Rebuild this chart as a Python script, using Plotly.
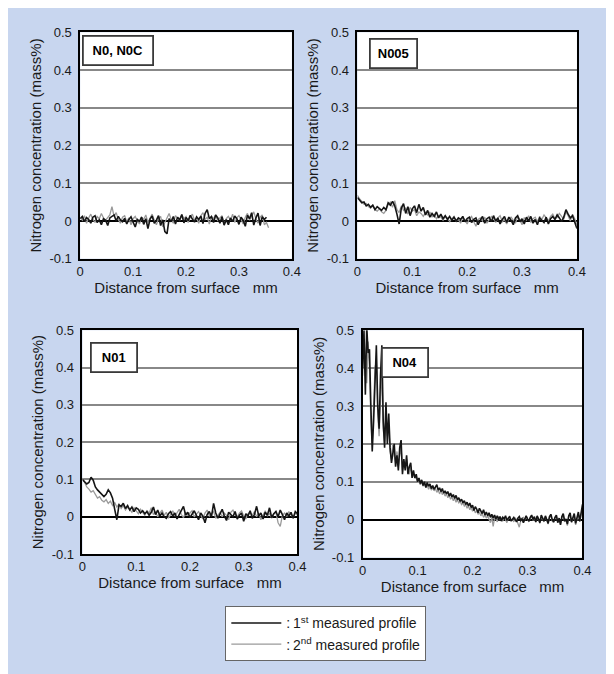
import plotly.graph_objects as go

# ---------------- data (mass% N vs distance from surface, mm) ----------------
STEP_STD = 0.004   # sampling step (mm) for N0, N005, N01
STEP_N04 = 0.0025  # sampling step (mm) for N04

n0_first = [0.006, 0.012, -0.002, 0.009, 0.004, -0.006, 0.010, 0.014, -0.004, 0.003,
            -0.010, 0.006, 0.002, -0.012, 0.008, 0.011, 0.016, 0.000, 0.012, 0.003,
            -0.002, 0.007, -0.008, 0.004, 0.011, -0.003, -0.016, 0.004, -0.001, 0.010,
            -0.009, 0.006, -0.020, 0.005, 0.013, -0.006, 0.002, 0.014, -0.012, 0.003,
            -0.028, -0.034, 0.006, -0.002, 0.012, -0.008, 0.010, 0.003, 0.017, -0.005,
            0.009, 0.001, 0.015, 0.005, -0.003, 0.011, 0.004, 0.013, -0.007, 0.020,
            0.030, 0.006, 0.012, -0.004, 0.016, 0.008, -0.006, 0.011, -0.011, 0.004,
            -0.010, 0.008, -0.002, 0.013, 0.006, -0.009, 0.010, 0.002, -0.014, 0.015,
            0.006, 0.022, -0.011, 0.008, 0.021, -0.012, 0.011, 0.004, 0.010]
n0_second = [0.010, 0.002, 0.014, -0.006, 0.008, 0.018, 0.004, -0.004, 0.012, 0.006,
             0.020, 0.008, 0.002, 0.010, 0.016, 0.038, 0.012, 0.022, 0.004, -0.006,
             0.010, 0.014, -0.002, 0.008, -0.010, 0.006, 0.012, 0.000, -0.008, 0.010,
             0.004, 0.016, -0.004, 0.008, 0.018, 0.002, -0.010, 0.006, 0.012, -0.016,
             -0.004, 0.010, 0.020, 0.004, -0.006, 0.014, 0.008, 0.002, 0.016, 0.006,
             0.012, -0.004, 0.010, 0.018, 0.002, 0.008, -0.006, 0.014, 0.022, 0.004,
             0.010, -0.008, 0.012, 0.006, 0.016, 0.000, 0.008, 0.014, -0.010, 0.006,
             0.012, 0.002, 0.018, -0.004, 0.008, 0.014, 0.004, -0.008, 0.010, 0.020,
             0.002, 0.012, 0.024, 0.006, -0.006, 0.010, 0.016, -0.010, -0.004, -0.018]

n005_first = [0.062, 0.055, 0.048, 0.050, 0.040, 0.044, 0.036, 0.042, 0.030, 0.038,
              0.034, 0.028, 0.036, 0.030, 0.048, 0.042, 0.052, 0.040, 0.018, -0.008,
              0.034, 0.046, 0.020, 0.038, 0.014, 0.032, 0.040, 0.022, 0.044, 0.026,
              0.036, 0.016, 0.028, 0.010, 0.020, 0.012, 0.024, 0.008, 0.018, 0.006,
              0.014, 0.004, 0.012, 0.002, 0.010, 0.000, 0.008, 0.004, 0.012, -0.002,
              0.006, 0.010, -0.004, 0.004, 0.008, -0.010, 0.002, 0.012, -0.006, 0.006,
              0.010, -0.002, 0.014, 0.000, 0.008, -0.008, 0.004, 0.012, -0.004, 0.010,
              0.002, -0.010, 0.008, 0.014, -0.002, 0.006, -0.008, 0.010, 0.000, 0.012,
              -0.006, 0.004, -0.010, 0.008, 0.002, -0.004, 0.010, -0.008, 0.006, 0.012,
              0.004, 0.016, 0.008, -0.002, 0.010, 0.030, 0.018, 0.008, 0.014, -0.006,
              -0.020]
n005_second = [0.068, 0.058, 0.052, 0.044, 0.046, 0.038, 0.034, 0.040, 0.030, 0.026,
               0.032, 0.024, 0.020, 0.028, 0.044, 0.050, 0.036, 0.054, 0.030, 0.022,
               0.040, 0.028, 0.034, 0.018, 0.036, 0.026, 0.030, 0.014, 0.024, 0.020,
               0.012, 0.022, 0.016, 0.024, 0.010, 0.018, 0.006, 0.014, 0.010, 0.002,
               0.012, 0.008, -0.002, 0.006, 0.012, 0.000, 0.004, -0.006, 0.010, 0.002,
               -0.008, 0.006, 0.012, -0.002, -0.014, 0.004, 0.008, 0.000, 0.010, -0.006,
               0.002, 0.012, 0.006, -0.004, 0.008, 0.014, -0.002, 0.004, -0.008, 0.006,
               0.010, 0.000, -0.006, 0.012, 0.004, -0.010, 0.008, 0.002, 0.014, -0.004,
               0.006, 0.010, -0.002, 0.012, 0.004, 0.016, 0.008, 0.000, 0.012, 0.018,
               0.006, 0.010, 0.020, 0.012, 0.004, 0.024, 0.014, 0.000, 0.018, 0.006,
               -0.010]

n01_first = [0.100, 0.094, 0.088, 0.092, 0.106, 0.098, 0.080, 0.072, 0.066, 0.058,
             0.054, 0.060, 0.072, 0.064, 0.050, 0.020, -0.008, 0.032, 0.028, 0.036,
             0.022, 0.030, 0.018, 0.026, 0.014, 0.024, 0.020, 0.010, 0.016, 0.008,
             0.014, 0.004, 0.012, 0.026, 0.006, 0.018, 0.002, 0.010, 0.000, -0.004,
             0.008, 0.014, 0.002, 0.010, -0.006, 0.006, 0.018, 0.028, 0.004, 0.012,
             -0.002, 0.008, 0.016, 0.004, -0.008, 0.010, 0.002, -0.016, 0.006, 0.014,
             0.000, 0.036, 0.010, -0.004, 0.008, 0.020, 0.002, -0.010, 0.012, 0.006,
             0.000, 0.014, -0.006, 0.004, 0.010, -0.012, 0.008, 0.002, 0.016, -0.004,
             0.006, 0.028, 0.002, 0.010, -0.006, 0.012, 0.004, 0.024, -0.002, 0.008,
             0.014, 0.000, 0.018, 0.006, -0.008, 0.010, 0.002, 0.012, -0.004, 0.014,
             0.008]
n01_second = [0.104, 0.090, 0.080, 0.074, 0.066, 0.070, 0.058, 0.050, 0.054, 0.044,
              0.040, 0.046, 0.036, 0.042, 0.030, 0.038, 0.026, 0.034, 0.022, 0.030,
              0.018, 0.026, 0.020, 0.012, 0.024, 0.016, 0.008, 0.020, 0.012, 0.004,
              0.016, 0.010, 0.024, 0.006, 0.014, 0.000, 0.010, 0.018, 0.004, 0.012,
              -0.004, 0.008, 0.016, 0.002, 0.010, 0.020, 0.006, -0.002, 0.012, 0.004,
              0.010, 0.016, 0.000, 0.008, 0.014, 0.004, -0.006, 0.010, 0.018, 0.002,
              0.008, 0.014, -0.004, 0.006, 0.012, 0.000, 0.010, 0.004, -0.008, 0.012,
              0.018, 0.006, 0.000, 0.010, 0.016, 0.002, -0.006, 0.008, 0.012, 0.004,
              0.014, 0.000, 0.010, -0.008, 0.006, 0.016, 0.002, 0.010, -0.004, 0.008,
              0.012, -0.016, -0.026, 0.004, 0.010, 0.000, 0.014, 0.006, -0.002, 0.010,
              0.004]

n04_first = [0.40, 0.50, 0.33, 0.51, 0.44, 0.45, 0.30, 0.18, 0.26, 0.34,
             0.46, 0.30, 0.24, 0.38, 0.46, 0.26, 0.19, 0.31, 0.20, 0.28,
             0.19, 0.15, 0.18, 0.20, 0.14, 0.17, 0.13, 0.19, 0.21, 0.12,
             0.16, 0.13, 0.17, 0.12, 0.14, 0.15, 0.11, 0.13, 0.11, 0.12,
             0.10,
             0.110, 0.095, 0.105, 0.090, 0.100, 0.085, 0.098, 0.088, 0.094, 0.082,
             0.090, 0.080, 0.086, 0.092, 0.078, 0.084, 0.074, 0.082, 0.070, 0.076,
             0.068, 0.074, 0.062, 0.070, 0.060, 0.066, 0.056, 0.064, 0.052, 0.058,
             0.048, 0.054, 0.044, 0.050, 0.040, 0.046, 0.036, 0.044, 0.032, 0.038,
             0.024, 0.034, 0.028, 0.018, 0.030, 0.022, 0.016, 0.026, 0.012, 0.020,
             0.010, 0.018, 0.006, 0.014, 0.004, 0.012, 0.002, 0.010, 0.000, 0.008,
             -0.004, 0.006, 0.002, 0.010, -0.002, 0.004, 0.008, -0.004, 0.002, 0.006,
             0.000, -0.006, 0.004, 0.008, -0.002, 0.002, -0.008, 0.004, 0.010, 0.002,
             -0.004, 0.006, 0.012, 0.000, 0.008, -0.006, 0.010, 0.002, -0.008, 0.012,
             0.004, -0.004, 0.010, 0.002, -0.010, 0.008, 0.014, 0.000, -0.006, 0.006,
             0.012, -0.008, 0.004, -0.014, 0.008, 0.016, -0.004, 0.002, -0.012, 0.010,
             0.018, -0.006, 0.004, 0.016, -0.010, 0.008, 0.020, -0.004, 0.014, 0.040]
n04_second = [0.38, 0.47, 0.42, 0.36, 0.47, 0.40, 0.26, 0.20, 0.30, 0.40,
              0.42, 0.28, 0.22, 0.34, 0.40, 0.24, 0.20, 0.27, 0.22, 0.25,
              0.18, 0.16, 0.20, 0.17, 0.15, 0.18, 0.14, 0.17, 0.19, 0.13,
              0.15, 0.14, 0.16, 0.13, 0.12, 0.14, 0.12, 0.12, 0.11, 0.11,
              0.10,
              0.100, 0.092, 0.100, 0.088, 0.096, 0.084, 0.092, 0.080, 0.088, 0.078,
              0.084, 0.076, 0.082, 0.072, 0.078, 0.068, 0.076, 0.066, 0.072, 0.062,
              0.068, 0.058, 0.064, 0.054, 0.060, 0.050, 0.056, 0.046, 0.052, 0.044,
              0.048, 0.040, 0.044, 0.036, 0.040, 0.030, 0.036, 0.026, 0.032, 0.022,
              0.028, 0.018, 0.024, 0.014, 0.020, 0.010, 0.016, 0.006, 0.012, 0.004,
              0.010, 0.000, -0.008, 0.006, -0.018, 0.004, 0.002, -0.006, 0.008, 0.000,
              0.004, -0.004, 0.006, 0.000, -0.008, 0.004, 0.008, -0.002, 0.002, -0.006,
              0.004, 0.000, -0.010, -0.020, -0.004, 0.004, 0.006, -0.002, 0.008, 0.002,
              -0.006, 0.004, 0.010, -0.002, 0.006, -0.008, 0.008, 0.000, -0.010, 0.006,
              0.002, -0.006, 0.008, 0.000, -0.012, 0.006, 0.010, -0.004, -0.008, 0.004,
              0.010, -0.006, 0.002, -0.012, 0.006, 0.012, -0.006, 0.000, -0.016, 0.008,
              0.014, -0.008, 0.002, 0.012, -0.014, 0.004, 0.016, -0.006, 0.010, 0.030]

panel_labels = ["N0, N0C", "N005", "N01", "N04"]
series_names = [":\u20091<sup>st</sup> measured profile", ":\u20092<sup>nd</sup> measured profile"]
y_tick_vals = [-0.1, 0, 0.1, 0.2, 0.3, 0.4, 0.5]
y_tick_text = ["-0.1", "0", "0.1", "0.2", "0.3", "0.4", "0.5"]
x_tick_vals = [0, 0.1, 0.2, 0.3, 0.4]
x_tick_text = ["0", "0.1", "0.2", "0.3", "0.4"]
x_title = "Distance from surface   mm"
y_title = "Nitrogen concentration (mass%)"

panels = [
    (n0_first, n0_second, STEP_STD),
    (n005_first, n005_second, STEP_STD),
    (n01_first, n01_second, STEP_STD),
    (n04_first, n04_second, STEP_N04),
]

# ---------------- styling ----------------
OFF = 8                      # default page body margin of the browser
W, H = 614 - OFF, 674 - OFF  # figure fills the rest of the window
BG = "#c8d6ef"
FONT = "Liberation Sans, Arial, sans-serif"
C_FIRST = "#151515"
C_SECOND = "#9a9a9a"

# plot-area pixel boxes in the window (left, right, top, bottom)
boxes = [
    (77.7, 294.0, 25.7, 257.3),
    (361.0, 585.3, 25.7, 257.3),
    (80.0, 299.7, 330.5, 559.5),
    (366.3, 591.0, 330.5, 563.0),
]
# label box: centre in domain fraction, width in px
label_pos = [(0.177, 0.918, 66), (0.166, 0.905, 43), (0.148, 0.877, 42), (0.194, 0.857, 42)]

fig = go.Figure()
for k, (first, second, step) in enumerate(panels):
    sfx = "" if k == 0 else str(k + 1)
    xs2 = [i * step for i in range(len(second))]
    xs1 = [i * step for i in range(len(first))]
    fig.add_trace(go.Scatter(x=xs2, y=second, mode="lines", name=series_names[1],
                             line=dict(color=C_SECOND, width=1.3),
                             xaxis="x" + sfx, yaxis="y" + sfx,
                             showlegend=(k == 0), legendrank=2))
    fig.add_trace(go.Scatter(x=xs1, y=first, mode="lines", name=series_names[0],
                             line=dict(color=C_FIRST, width=1.6),
                             xaxis="x" + sfx, yaxis="y" + sfx,
                             showlegend=(k == 0), legendrank=1))

layout = dict(
    width=W, height=H, autosize=False,
    margin=dict(l=0, r=0, t=0, b=0),
    paper_bgcolor=BG, plot_bgcolor="white",
    font=dict(family=FONT, size=13, color="#1a1a1a"),
    showlegend=True,
    legend=dict(x=(226 - OFF) / W, y=1 - (613 - OFF) / H, xanchor="left", yanchor="top",
                bgcolor="white", bordercolor="#666666", borderwidth=1,
                font=dict(family=FONT, size=14, color="#1a1a1a"),
                traceorder="normal", tracegroupgap=0, itemwidth=50),
    annotations=[],
)

for k, (l, r, t, b) in enumerate(boxes):
    sfx = "" if k == 0 else str(k + 1)
    l, r, t, b = l - OFF, r - OFF, t - OFF, b - OFF
    layout["xaxis" + sfx] = dict(
        domain=[l / W, r / W], range=[0, 0.4], anchor="y" + sfx,
        tickvals=x_tick_vals, ticktext=x_tick_text, ticks="",
        showgrid=False, zeroline=False,
        showline=True, mirror=True, linecolor="black", linewidth=1.5,
        tickfont=dict(size=13),
        title=dict(text=x_title, font=dict(size=15), standoff=0),
    )
    layout["yaxis" + sfx] = dict(
        domain=[1 - b / H, 1 - t / H], range=[-0.1, 0.5], anchor="x" + sfx,
        tickvals=y_tick_vals, ticktext=y_tick_text, ticks="",
        showgrid=True, gridcolor="#888888", gridwidth=1.5,
        zeroline=True, zerolinecolor="black", zerolinewidth=1.6,
        showline=True, mirror=True, linecolor="black", linewidth=1.5,
        tickfont=dict(size=13), ticklabelstandoff=4,
        title=dict(text=y_title, font=dict(size=15), standoff=4),
    )
    fx, fy, bw = label_pos[k]
    layout["annotations"].append(dict(
        text="<b>" + panel_labels[k] + "</b>",
        xref=("x" + sfx) + " domain", yref=("y" + sfx) + " domain",
        x=fx, y=fy, xanchor="center", yanchor="middle", showarrow=False,
        font=dict(family=FONT, size=13, color="black"),
        bgcolor="white", bordercolor="#3a3a3a", borderwidth=1.8,
        borderpad=1, width=bw, height=25,
    ))

fig.update_layout(**layout)
fig.write_html("out.html", config={"displayModeBar": False})
